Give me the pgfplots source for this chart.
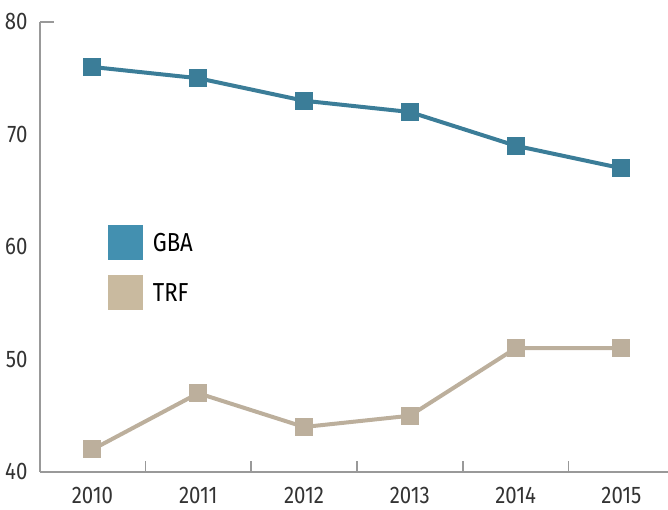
\documentclass[border=0pt]{standalone}
\usepackage{fontspec}
\setmainfont{Fira Sans}[FakeStretch=0.85]
\usepackage{pgfplots}
\pgfplotsset{compat=1.18}
\definecolor{gbaline}{HTML}{3B7D98}
\definecolor{gbaleg}{HTML}{4390B0}
\definecolor{trfline}{HTML}{BCAF9C}
\definecolor{trfleg}{HTML}{C9BA9F}
\definecolor{axisgray}{HTML}{999999}
\definecolor{labgray}{HTML}{333333}
\begin{document}
\begin{tikzpicture}
\begin{axis}[
  name=ax,
  scale only axis,
  width=628pt, height=450pt,
  xmin=-0.496, xmax=5.44,
  ymin=40, ymax=80,
  axis x line*=bottom, axis y line*=left,
  axis line style={axisgray, line width=1.5pt, -},
  xtick={0,1,2,3,4,5},
  xticklabels={2010,2011,2012,2013,2014,2015},
  ytick={40,50,60,70,80},
  major tick length=0pt,
  extra x ticks={0.5,1.5,2.5,3.5,4.5},
  extra x tick labels={},
  extra x tick style={major tick length=11pt, tick align=inside, tick style={axisgray, line width=1.5pt}},
  extra y ticks={80},
  extra y tick labels={},
  extra y tick style={major tick length=14pt, tick align=inside, tick style={axisgray, line width=1.5pt}},
  /pgf/number format/assume math mode=true,
  /pgf/number format/1000 sep={},
  tick label style={font=\fontsize{24}{26}\selectfont, text=labgray},
  xticklabel style={yshift=-12pt},
  yticklabel style={xshift=-9pt},
  legend style={at={(axis description cs:0.108,0.548)}, anchor=north west, draw=none, fill=none,
    inner sep=0pt, outer sep=0pt, row sep=15pt,
    font=\fontsize{26}{28}\selectfont, cells={anchor=west}},
  legend cell align=left,
  clip=false,
]
\addplot[gbaline, line width=4pt, mark=square*, mark size=7pt, mark options={draw=none, fill=gbaline},
  legend image code/.code={\fill[gbaleg] (0pt,-15.5pt) rectangle (31pt,15.5pt);}]
  coordinates {(0,76) (1,75) (2,73) (3,72) (4,69) (5,67)};
\addlegendentry{\hspace{8pt}GBA}
\addplot[trfline, line width=4pt, mark=square*, mark size=7pt, mark options={draw=none, fill=trfline},
  legend image code/.code={\fill[trfleg] (0pt,-15.5pt) rectangle (31pt,15.5pt);}]
  coordinates {(0,42) (1,47) (2,44) (3,45) (4,51) (5,51)};
\addlegendentry{\hspace{8pt}TRF}
\end{axis}
\pgfresetboundingbox
\path ([xshift=-40pt,yshift=-38pt]ax.south west) rectangle ([yshift=22pt]ax.north east);
\end{tikzpicture}
\end{document}
